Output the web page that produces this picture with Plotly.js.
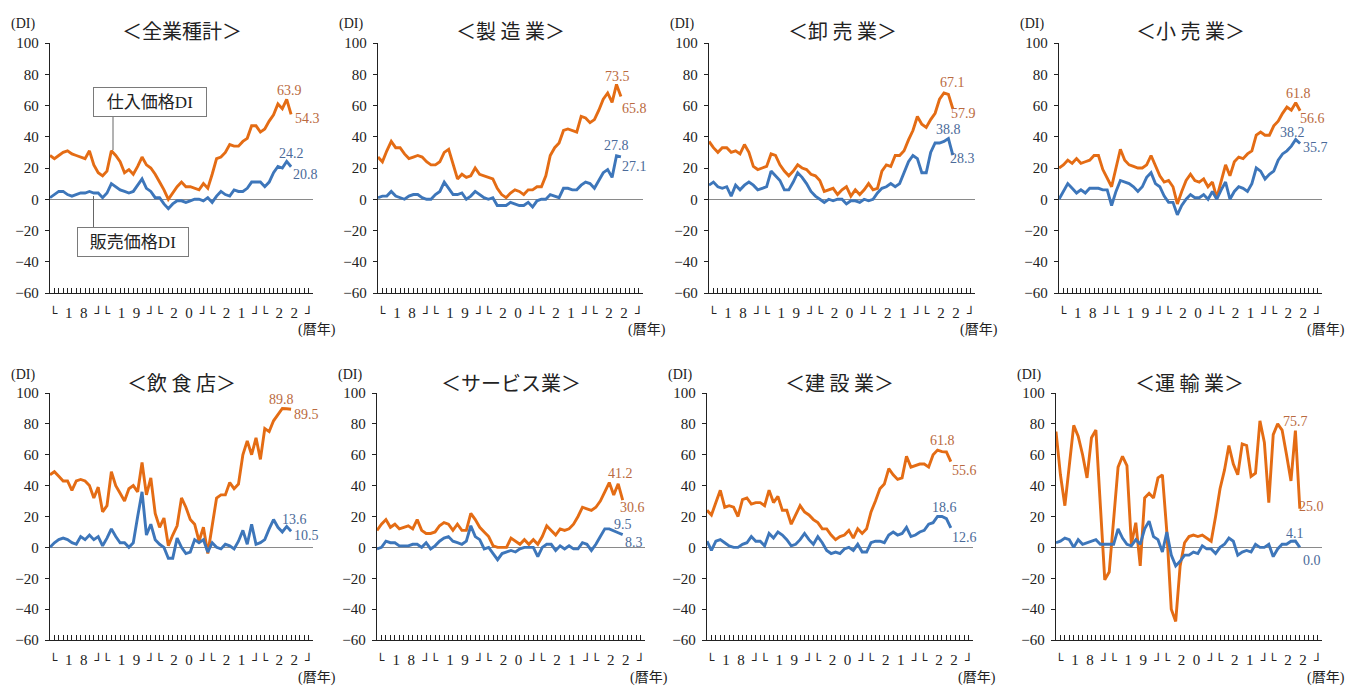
<!DOCTYPE html>
<html><head><meta charset="utf-8">
<script src="https://cdn.plot.ly/plotly-3.0.1.min.js"></script>
<style>html,body{margin:0;padding:0;background:#fff;}#chart{width:1352px;height:686px;}</style>
</head><body><div id="chart"></div>
<script>
// ---- data (monthly, 2018/1 – 2022/8) ----
const panelTitles = ['＜全業種計＞','＜製 造 業＞','＜卸 売 業＞','＜小 売 業＞','＜飲 食 店＞','＜サービス業＞','＜建 設 業＞','＜運 輸 業＞'];
const seriesNames = ['仕入価格DI','販売価格DI'];
const yearLabels = ['18','19','20','21','22'];
const yTicks = [-60,-40,-20,0,20,40,60,80,100];

const allBuy  = [28,26,28,30,31,29,28,27,26,31, 22,17,15,18,31,28,24,17,19,16, 21,27,22,20,16,11,6,0,4,8, 11,8,8,7,6,10,7,16,26,27, 30,35,34,34,37,39,47,47,43,45, 50,54,61,58,63.9,54.3];
const allSell = [1,3,5,5,3,2,3,4,4,5, 4,4,1,4,10,8,6,5,4,5, 9,13,7,5,1,1,-3,-6,-3,-1, -1,-2,-1,0,0,-1,1,-2,2,5, 3,2,6,5,5,7,11,11,11,8, 11,17,21,20,24.2,20.8];
const mfgBuy  = [27,24,31,37,33,33,29,26,27,28, 27,24,22,22,24,30,32,23,13,16, 14,15,20,16,15,14,13,7,3,1, 4,6,5,3,6,6,8,8,15,28, 33,36,44,45,44,43,53,52,49,51, 57,64,68,62,73.5,65.8];
const mfgSell = [1,2,2,5,2,1,0,2,3,3, 1,0,0,3,5,11,7,3,3,4, 0,2,5,3,1,0,1,-4,-4,-4, -2,-3,-4,-4,-2,-5,-1,0,0,3, 2,1,7,7,6,6,9,11,10,7, 12,17,19,14,27.8,27.1];
const whsBuy  = [37,33,30,33,33,30,31,29,35,30, 21,19,20,21,29,28,22,18,15,18, 22,20,19,16,15,12,5,6,7,3, 6,8,2,6,3,6,10,6,7,18, 22,21,28,28,31,38,44,53,48,46, 51,55,64,68,67.1,57.9];
const whsSell = [9,11,8,7,8,2,9,6,9,11, 9,6,7,8,18,15,12,6,6,11, 17,14,10,5,2,0,-2,0,-1,0, 0,-3,-1,-1,-2,0,-1,0,4,7, 8,10,8,10,17,24,28,26,17,17, 30,36,36,37,38.8,28.3];
const rtlBuy  = [20,22,25,23,26,23,24,25,28,28, 19,13,8,20,32,25,22,21,20,20, 22,28,21,15,11,12,8,-3,5,12, 16,12,11,13,8,11,1,11,22,15, 24,27,26,29,31,41,43,41,41,47, 50,55,59,57,61.8,56.6];
const rtlSell = [0,5,10,7,4,6,4,7,7,7, 6,6,-4,5,12,11,10,8,5,8, 14,17,10,8,2,-2,-2,-10,-4,0, 3,1,1,3,0,5,0,6,11,0, 5,8,7,5,10,20,18,13,16,18, 25,29,31,34,38.2,35.7];
const fdBuy   = [47,49,46,43,43,37,43,44,43,40, 32,39,23,27,49,40,35,30,38,40, 36,55,34,45,22,13,19,1,8,14, 32,26,18,15,4,13,-4,15,32,34, 34,42,38,41,60,69,60,71,57,77, 75,82,86,90,89.8,89.5];
const fdSell  = [0,3,5,6,5,3,2,7,5,8, 5,7,1,6,12,7,3,3,0,3, 20,36,8,15,5,2,0,-7,-7,6, 0,-4,-3,5,3,5,-3,3,0,-1, 2,1,-1,4,11,2,15,2,3,5, 12,18,13,10,13.6,10.5];
const svcBuy  = [11,15,18,13,15,12,13,14,12,18, 11,9,9,10,14,16,15,11,15,11, 11,22,18,13,10,7,1,0,0,0, 6,4,2,5,2,5,2,7,14,11, 8,12,11,12,15,20,26,25,24,26, 30,36,42,34,41.2,30.6];
const svcSell = [-1,0,4,3,3,1,1,1,2,2, 0,3,-1,1,4,6,7,4,3,2, 4,14,7,5,-1,0,-4,-8,-4,-3, -2,-3,-1,0,0,0,-6,0,2,2, -2,1,-1,1,-1,-1,3,2,-2,2, 7,12,12,11,9.5,8.3];
const cnsBuy  = [24,21,29,37,26,27,26,20,31,32, 28,29,29,27,37,29,33,24,24,15, 21,27,23,21,18,16,12,12,8,5, 7,8,11,6,12,9,12,23,30,38, 41,51,47,44,45,59,52,53,54,54, 52,60,63,62,61.8,55.6];
const cnsSell = [4,-2,4,5,3,1,0,0,2,3, 7,4,4,1,9,6,10,8,5,1, 2,5,9,5,2,7,3,-2,-4,-3, -4,-1,0,-2,2,-3,-3,3,4,4, 3,8,10,8,9,13,7,8,10,11, 15,16,20,20,18.6,12.6];
const trnBuy  = [75,47,27,55,79,72,60,45,71,76, 28,-21,-16,18,52,59,53,2,16,-12, 32,35,32,45,47,10,-40,-48,-12,3, 7,8,7,8,6,4,20,38,50,66, 54,47,67,66,46,48,82,68,29,73, 80,76,60,43,75.7,25.0];
const trnSell = [3,4,6,5,0,5,2,3,4,5, 2,2,2,2,12,6,2,1,5,2, 12,17,7,5,-3,10,-5,-12,-9,-5, -5,-3,-4,1,-1,-1,-4,0,2,6, 4,-5,-3,-2,-3,2,0,0,2,-6, -1,2,2,4,4.1,0.0];

// ---- layout helpers ----
const W = 1352, H = 686;
const px = x => x / W, py = y => 1 - y / H;
const buySeries  = [allBuy, mfgBuy, whsBuy, rtlBuy, fdBuy, svcBuy, cnsBuy, trnBuy];
const sellSeries = [allSell, mfgSell, whsSell, rtlSell, fdSell, svcSell, cnsSell, trnSell];
const xDom = [[50,313],[378,643],[709,975],[1059,1322],[50,313],[377,645],[707,973],[1056,1322]];
const yDom = [[43,293],[43,293],[43,293],[43,293],[393,640],[393,640],[393,640],[393,640]];
// label shifts [buyPrev, buyLast, sellPrev, sellLast] in px
const lblShift = [
  [[3,9],[16,-4],[5,8],[14,-8]],
  [[1,8],[14,-12],[0,10],[14,-10]],
  [[4,12],[11,-5],[0,9],[10,-3]],
  [[3,9],[12,-8],[-3,7],[15,-4]],
  [[-5,9],[15,-5],[8,7],[15,-4]],
  [[2,10],[10,-7],[5,8],[11,-8]],
  [[-4,11],[14,-9],[-2,11],[14,-10]],
  [[0,9],[12,2],[0,8],[12,-13]]
];
const ORANGE = '#E46C14', BLUE = '#3D76BA';
const ORANGE_T = '#BA6A40', BLUE_T = '#4B6A99';
const SERIF = '"Liberation Serif", "Times New Roman", serif';
const JP = '"Liberation Serif", "Noto Sans CJK JP", serif';
const CJK = '"Noto Sans CJK JP", sans-serif';

const br = t => '<span style="font-family:\'DejaVu Sans\';font-size:13px">' + t + '</span>';
const tickVals = [], tickText = [];
for (let m = 0; m <= 60; m++) {
  let t = '';
  if (m === 0) t = '\u2002' + br('└');
  else if (m === 60) t = br('┘') + '\u2002';
  else if (m % 12 === 0) t = br('┘└');
  else if (m % 12 === 6) t = yearLabels[(m - 6) / 12].split('').join('\u2002');
  tickVals.push(m); tickText.push(t);
}

const data = [];
const layout = {
  width: W, height: H, margin: {l:0, r:0, t:0, b:0},
  paper_bgcolor: '#fff', plot_bgcolor: '#fff', showlegend: false,
  annotations: [], shapes: []
};

for (let p = 0; p < 8; p++) {
  const s = p === 0 ? '' : String(p + 1);
  const xr = 'x' + s, yr = 'y' + s;
  const buy = buySeries[p], sell = sellSeries[p];
  const months = buy.map((_, i) => i);
  data.push({x: months, y: buy, xaxis: xr, yaxis: yr, type: 'scatter', mode: 'lines', name: seriesNames[0],
             line: {color: ORANGE, width: 2.9}, hoverinfo: 'skip'});
  data.push({x: months, y: sell, xaxis: xr, yaxis: yr, type: 'scatter', mode: 'lines', name: seriesNames[1],
             line: {color: BLUE, width: 2.9}, hoverinfo: 'skip'});
  const xd = xDom[p], yd = yDom[p];
  layout['xaxis' + s] = {
    domain: [px(xd[0]), px(xd[1])], range: [0, 60], anchor: yr,
    tickmode: 'array', tickvals: tickVals, ticktext: tickText, tickangle: 0,
    ticks: 'inside', ticklen: 5, tickwidth: 1, tickcolor: '#222',
    showline: true, linecolor: '#222', linewidth: 1.3,
    showgrid: false, zeroline: false, ticklabelstandoff: 6,
    tickfont: {family: SERIF, size: 15, color: '#222'}, fixedrange: true
  };
  layout['yaxis' + s] = {
    domain: [py(yd[1]), py(yd[0])], range: [-60, 100], anchor: xr,
    tickmode: 'array', tickvals: yTicks,
    ticks: 'outside', ticklen: 4, tickwidth: 1, tickcolor: '#222',
    showline: true, linecolor: '#222', linewidth: 1.3,
    showgrid: false, zeroline: true, zerolinecolor: '#8a8a8a', zerolinewidth: 1.2,
    ticklabelstandoff: 3,
    tickfont: {family: SERIF, size: 15, color: '#222'}, fixedrange: true
  };
  const titleY = p < 4 ? 30 : 382;
  const diY = p < 4 ? 24 : 375;
  const nenY = p < 4 ? 330 : 678;
  layout.annotations.push({xref:'paper', yref:'paper', x: px((xd[0]+xd[1])/2), y: py(titleY), text: panelTitles[p],
    showarrow:false, xanchor:'center', yanchor:'middle', font:{family:CJK, size:20, color:'#222'}});
  layout.annotations.push({xref:'paper', yref:'paper', x: px(xd[0]-27), y: py(diY), text: '(DI)',
    showarrow:false, xanchor:'center', yanchor:'middle', font:{family:SERIF, size:14, color:'#222'}});
  layout.annotations.push({xref:'paper', yref:'paper', x: px(xd[1]+4), y: py(nenY), text: '(暦年)',
    showarrow:false, xanchor:'center', yanchor:'middle', font:{family:JP, size:14, color:'#222'}});
  // value labels for last two months
  const n = buy.length;
  const pts = [[n-2, buy[n-2], ORANGE_T], [n-1, buy[n-1], ORANGE_T], [n-2, sell[n-2], BLUE_T], [n-1, sell[n-1], BLUE_T]];
  pts.forEach((pt, k) => {
    const sh = lblShift[p][k];
    layout.annotations.push({xref: xr, yref: yr, x: pt[0], y: pt[1], text: pt[1].toFixed(1), showarrow:false,
      xanchor:'center', yanchor:'middle', xshift: sh[0], yshift: sh[1],
      font:{family:SERIF, size:14, color: pt[2]}});
  });
}

// legend boxes (全業種計 panel)
layout.annotations.push({xref:'paper', yref:'paper', x: px(150), y: py(101.5), text: seriesNames[0], showarrow:false,
  xanchor:'center', yanchor:'middle', bgcolor:'#fff', bordercolor:'#7a7a7a', borderwidth:1, borderpad:3,
  width:106, height:22, font:{family:JP, size:17, color:'#222'}});
layout.annotations.push({xref:'paper', yref:'paper', x: px(133), y: py(242.5), text: seriesNames[1], showarrow:false,
  xanchor:'center', yanchor:'middle', bgcolor:'#fff', bordercolor:'#7a7a7a', borderwidth:1, borderpad:3,
  width:104, height:22, font:{family:JP, size:17, color:'#222'}});
layout.shapes.push({type:'line', xref:'paper', yref:'paper', x0:px(113), x1:px(113), y0:py(116), y1:py(150), line:{color:'#666', width:1}});
layout.shapes.push({type:'line', xref:'paper', yref:'paper', x0:px(93.5), x1:px(93.5), y0:py(196), y1:py(228), line:{color:'#666', width:1}});

Plotly.newPlot('chart', data, layout, {staticPlot: true, displayModeBar: false});
</script>
</body></html>
